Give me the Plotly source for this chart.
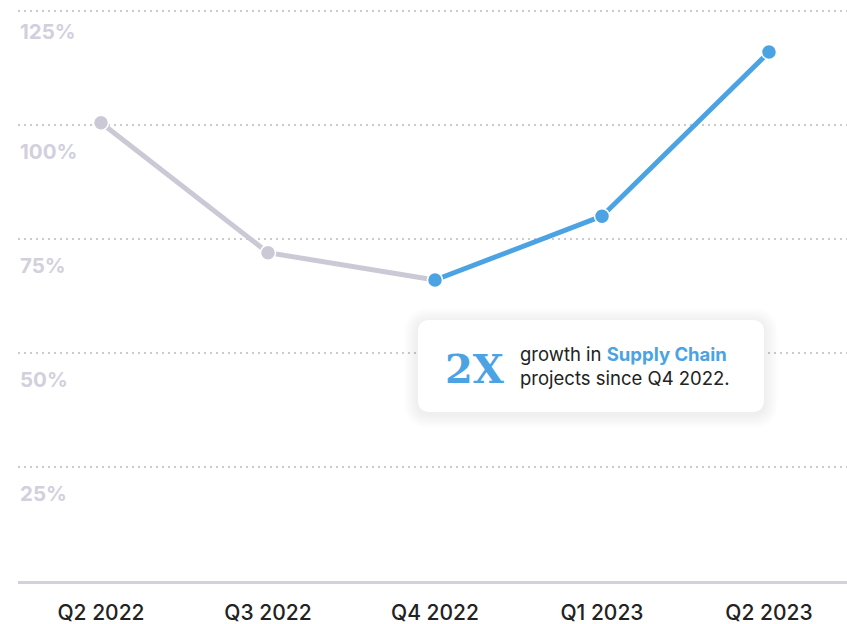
import plotly.graph_objects as go

quarters = ["Q2 2022", "Q3 2022", "Q4 2022", "Q1 2023", "Q2 2023"]
growth = [100.5, 72, 66, 80, 116]
y_ticks = [25, 50, 75, 100, 125]
y_tick_labels = ["25%", "50%", "75%", "100%", "125%"]

GRAY = "#CBC9D6"
BLUE = "#4BA3E3"
TICK_GRAY = "#D2D0DD"
FONT = "Inter"

W, H = 847, 624
ML, MR, MT, MB = 18, 0, 0, 43
PW, PH = W - ML - MR, H - MT - MB

fig = go.Figure()
# gray segment (up to Q4 2022)
fig.add_trace(go.Scatter(
    x=quarters[:3], y=growth[:3], mode="lines+markers",
    line=dict(color=GRAY, width=5),
    marker=dict(size=15, color=GRAY, line=dict(color="white", width=1.5)),
    hoverinfo="skip", showlegend=False))
# blue segment (from Q4 2022)
fig.add_trace(go.Scatter(
    x=quarters[2:], y=growth[2:], mode="lines+markers",
    line=dict(color=BLUE, width=5),
    marker=dict(size=15, color=BLUE, line=dict(color="white", width=1.5)),
    hoverinfo="skip", showlegend=False))

# y tick labels below gridlines
top = max(y_ticks)
for v, lab in zip(y_ticks, y_tick_labels):
    fig.add_annotation(x=0, xref="paper", xanchor="left", y=v, yref="y",
                       yshift=-21 if v == top else -27, text=lab, showarrow=False,
                       font=dict(family=FONT, size=20.5, color=TICK_GRAY, weight="bold"))


def rrect(x0, y0, x1, y1, r):
    # pixel coords -> paper coords
    def px(x):
        return (x - ML) / PW
    def py(y):
        return (H - MB - y) / PH
    return (f"M {px(x0 + r)} {py(y0)} L {px(x1 - r)} {py(y0)} "
            f"Q {px(x1)} {py(y0)} {px(x1)} {py(y0 + r)} "
            f"L {px(x1)} {py(y1 - r)} Q {px(x1)} {py(y1)} {px(x1 - r)} {py(y1)} "
            f"L {px(x0 + r)} {py(y1)} Q {px(x0)} {py(y1)} {px(x0)} {py(y1 - r)} "
            f"L {px(x0)} {py(y0 + r)} Q {px(x0)} {py(y0)} {px(x0 + r)} {py(y0)} Z")

bx0, by0, bx1, by1 = 418, 320, 764, 412
for i in range(8):
    g = 14 - i * 1.75
    fig.add_shape(type="path", xref="paper", yref="paper",
                  path=rrect(bx0 - g, by0 - g + 2, bx1 + g, by1 + g + 2, 12 + g),
                  fillcolor="rgba(0,0,0,0.009)", line=dict(width=0), layer="above")
fig.add_shape(type="path", xref="paper", yref="paper",
              path=rrect(bx0, by0, bx1, by1, 12),
              fillcolor="white", line=dict(width=0), layer="above")

fig.add_annotation(x=(475 - ML) / PW, xref="paper", y=(H - MB - 368) / PH, yref="paper",
                   text="<b>2X</b>", showarrow=False, xanchor="center", yanchor="middle",
                   font=dict(family="DejaVu Serif", size=40, color=BLUE))
fig.add_annotation(x=(518 - ML) / PW, xref="paper", y=(H - MB - 366) / PH, yref="paper",
                   text=f"growth in <b><span style='color:{BLUE}'>Supply Chain</span></b><br>projects since Q4 2022.",
                   showarrow=False, xanchor="left", yanchor="middle", align="left",
                   font=dict(family=FONT, size=18.5, color="#222222"))

fig.update_layout(
    width=W, height=H, margin=dict(l=ML, r=MR, t=MT, b=MB),
    plot_bgcolor="white", paper_bgcolor="white",
    xaxis=dict(type="category", range=[-0.497, 4.467], showgrid=False,
               showline=True, linecolor="#D3D1DD", linewidth=3,
               tickfont=dict(family=FONT, size=21, color="#222222", weight=500),
               ticks="", ticklabelstandoff=11, fixedrange=True),
    yaxis=dict(range=[0, 127.4], tickvals=y_ticks, showticklabels=False,
               showgrid=True, gridcolor="#CACAD0", gridwidth=1.5, griddash="2px,4px",
               zeroline=False, fixedrange=True),
)

fig.write_html("out.html")
